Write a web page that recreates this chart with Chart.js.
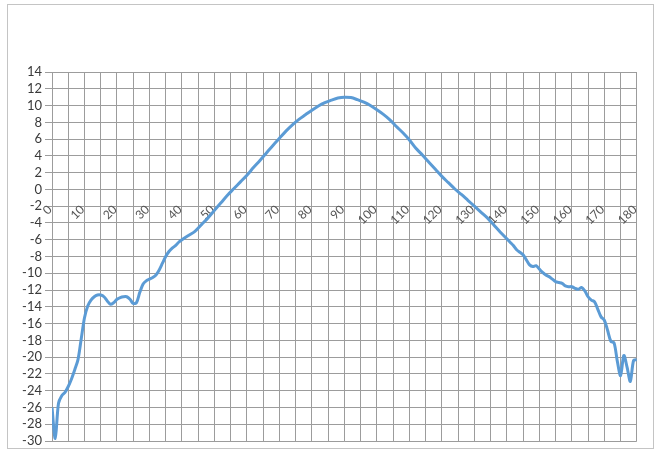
<!DOCTYPE html>
<html><head><meta charset="utf-8">
<script src="https://cdn.jsdelivr.net/npm/chart.js@4.4.1/dist/chart.umd.min.js"></script>
<style>
html,body{margin:0;padding:0;background:#fff;}
#frame{position:absolute;left:7px;top:4px;width:647px;height:445px;border:1px solid #c4c4c4;box-sizing:border-box;}
#wrap{position:absolute;left:0;top:0;width:660px;height:457px;}
</style></head><body>
<div id="frame"></div>
<div id="wrap"><canvas id="c" width="660" height="457"></canvas></div>
<script>
const angles = [0,1,2,3,4,5,6,7,8,9,10,11,12,13,14,15,16,17,18,19,20,21,22,23,24,25,26,27,28,29,30,31,32,33,34,35,36,37,38,39,40,
  42,44,46,48,50,52,54,56,58,60,62,64,66,68,70,72,74,76,78,80,82,84,86,88,90,92,94,96,98,100,102,104,106,108,110,112,114,116,118,120,122,124,126,128,130,132,134,136,138,140,
  141,142,143,144,145,146,147,148,149,150,151,152,153,154,155,156,157,158,159,160,161,162,163,164,165,166,167,168,169,170,171,172,173,174,175,176,177,178,179,180];
const gain = [-26.0,-29.7,-25.5,-24.6,-24.2,-23.5,-22.6,-21.5,-20.3,-17.8,-15.3,-13.9,-13.2,-12.8,-12.6,-12.6,-12.8,-13.3,-13.7,-13.5,-13.1,-12.9,-12.8,-12.8,-13.1,-13.6,-13.5,-12.3,-11.3,-10.9,-10.7,-10.5,-10.2,-9.6,-8.8,-8.0,-7.4,-7.0,-6.7,-6.3,-6.0,
  -5.5,-5.0,-4.2,-3.4,-2.5,-1.6,-0.7,0.1,0.9,1.7,2.6,3.45,4.35,5.25,6.1,6.95,7.7,8.35,8.9,9.45,9.95,10.35,10.65,10.9,11.0,10.95,10.7,10.4,10.0,9.5,8.95,8.3,7.5,6.75,5.9,4.9,4.1,3.25,2.4,1.55,0.8,0.05,-0.6,-1.3,-2.0,-2.7,-3.4,-4.25,-5.1,-5.9,
  -6.3,-6.7,-7.2,-7.5,-7.8,-8.4,-9.0,-9.2,-9.1,-9.5,-9.9,-10.2,-10.4,-10.7,-11.0,-11.1,-11.2,-11.5,-11.6,-11.6,-11.8,-11.9,-11.7,-12.1,-12.8,-13.2,-13.4,-14.3,-15.2,-15.6,-16.8,-18.1,-18.3,-20.5,-22.2,-19.8,-21.2,-22.9,-20.4,-20.3];
const xMin = 0, xMax = 180, xStep = 5, xLabelEvery = 10;
const yMin = -30, yMax = 14, yStep = 2;

const gridColor = '#9c9c9c';
new Chart(document.getElementById('c'), {
  type: 'line',
  data: { datasets: [{
    data: angles.map((a, i) => ({ x: a, y: gain[i] })),
    borderColor: '#5b9bd5', borderWidth: 3, pointRadius: 0, tension: 0.3, fill: false
  }]},
  options: {
    responsive: false, animation: false,
    layout: { padding: { left: 0, right: 20, top: 72, bottom: 16 } },
    plugins: { legend: { display: false }, tooltip: { enabled: false } },
    scales: {
      x: {
        type: 'linear', min: xMin, max: xMax, position: { y: 0 },
        ticks: { stepSize: xStep, autoSkip: false, minRotation: 45, maxRotation: 45,
          callback: (v) => (v % xLabelEvery === 0 ? String(v) : ''),
          color: '#555555', font: { family: 'Lato', size: 12 }, padding: 13, labelOffset: -2 },
        grid: { color: gridColor, drawTicks: false },
        border: { color: gridColor },
        afterFit: (s) => { s.height = 0; }
      },
      y: {
        min: yMin, max: yMax,
        ticks: { stepSize: yStep, autoSkip: false, color: '#3a3a3a', font: { family: 'Lato', size: 13 }, padding: 3 },
        grid: { color: gridColor, tickLength: 7 },
        border: { color: gridColor },
        afterFit: (s) => { s.width = 52; }
      }
    }
  }
});
</script>
</body></html>
